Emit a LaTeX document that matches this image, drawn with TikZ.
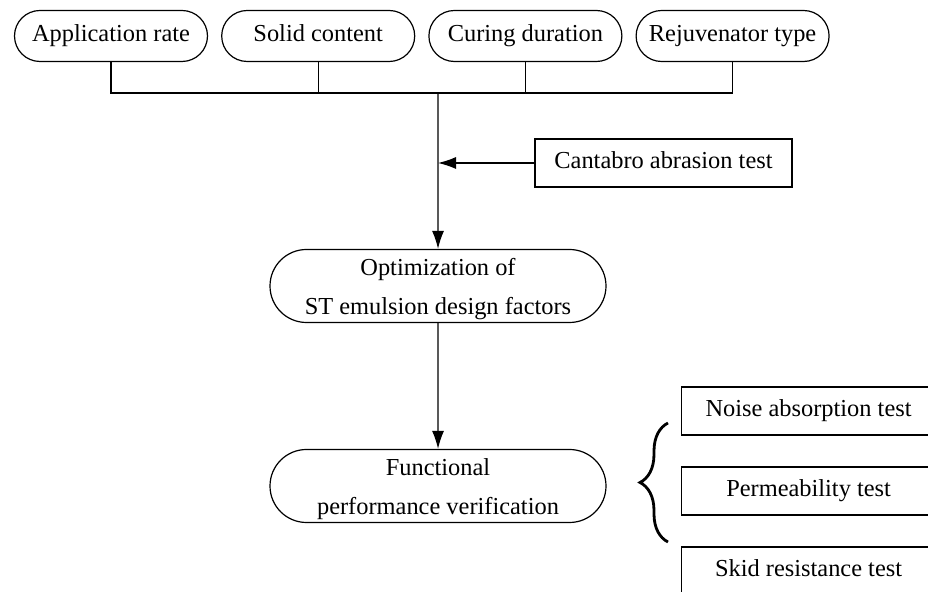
\documentclass[tikz,border=0pt]{standalone}
\usepackage{fontspec}
\setmainfont{Liberation Serif}
\usetikzlibrary{arrows.meta,positioning,shapes.misc,decorations.pathreplacing}
\tikzset{
  >={Latex[length=9pt,width=6pt]},
  every node/.style={font=\fontsize{12.2}{19.5}\selectfont,text=black},
  factor/.style={draw,rounded rectangle,line width=0.6pt,minimum width=100.5pt,minimum height=25.5pt,inner sep=2pt,text height=8.5pt,text depth=2.5pt},
  stage/.style={draw,rounded rectangle,line width=0.6pt,minimum width=172pt,minimum height=36.5pt,align=center,inner xsep=2pt,inner ysep=0pt,text height=32pt,text depth=3pt},
  testbox/.style={draw,rectangle,line width=0.6pt,minimum height=24pt,minimum width=127pt,text height=8.5pt,text depth=2.5pt},
  link/.style={line width=0.6pt},
  arrow/.style={->,line width=0.6pt},
  bracket/.style={decorate,decoration={brace,amplitude=14pt},line width=1.4pt}
}

\begin{document}
\begin{tikzpicture}[x=0.5pt,y=-0.5pt,node distance=6.5pt]
  \useasboundingbox (0,0) rectangle (928,592);
  \clip (0,0) rectangle (928,592);

  % design factors
  \node[factor] (apprate) at (111,36) {Application rate};
  \node[factor,right=of apprate] (solid) {Solid content};
  \node[factor,right=of solid] (curing) {Curing duration};
  \node[factor,right=of curing] (rejtype) {Rejuvenator type};

  \coordinate (junc) at (438,93);
  \draw[link] (apprate.south) |- (junc) -| (rejtype.south);
  \draw[link] (solid.south) -- (solid.south |- junc);
  \draw[link] (curing.south) -- (curing.south |- junc);

  % main flow
  \node[stage] (optim) at (438,286) {Optimization of\\ST emulsion design factors};
  \node[stage] (funcperf) at (438,486) {Functional\\performance verification};
  \node[testbox,minimum width=128.5pt] (cantabro) at (663.5,163) {Cantabro abrasion test};

  \draw[arrow] (junc) -- (optim);
  \draw[arrow] (cantabro) -- (cantabro -| junc);
  \draw[arrow] (optim) -- (funcperf);

  % verification tests
  \node[testbox,anchor=west] (noise) at (681,411) {Noise absorption test};
  \node[testbox,anchor=west] (perm) at (681,491) {Permeability test};
  \node[testbox,anchor=west] (skid) at (681,571) {Skid resistance test};
  \draw[bracket] (668,542) -- (668,423);
\end{tikzpicture}
\end{document}
